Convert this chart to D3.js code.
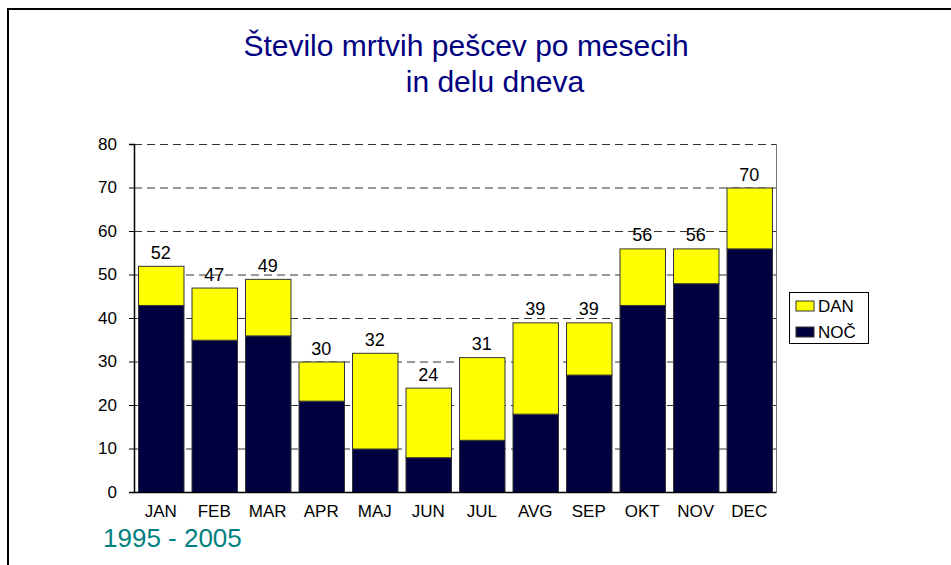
<!DOCTYPE html>
<html>
<head>
<meta charset="utf-8">
<script src="https://cdn.jsdelivr.net/npm/d3@7"></script>
<style>
    body { margin: 0; background: #fff; }
    svg text { font-family: "Liberation Sans", Arial, sans-serif; }
</style>
</head>
<body>
<div class="mainArea"></div>
<script>
let months = ['JAN', 'FEB', 'MAR', 'APR', 'MAJ', 'JUN', 'JUL', 'AVG', 'SEP', 'OKT', 'NOV', 'DEC'];
let noc = [43, 35, 36, 21, 10, 8, 12, 18, 27, 43, 48, 56];
let dan = [9, 12, 13, 9, 22, 16, 19, 21, 12, 13, 8, 14];
let yTicks = [0, 10, 20, 30, 40, 50, 60, 70, 80];
let seriesNames = ['DAN', 'NOČ'];
let seriesColors = {'DAN': '#ffff00', 'NOČ': '#000040'};

let chartW = 951;
let chartH = 565;
let plotLeft = 134, plotRight = 776, plotTop = 144, plotBottom = 492;

function drawChart() {
    let svg = d3.select('.mainArea').append('svg')
        .attr('width', chartW)
        .attr('height', chartH);

    // frame (top + left only)
    svg.append('line').attr('x1', 7).attr('x2', chartW).attr('y1', 9).attr('y2', 9)
        .attr('stroke', '#000').attr('stroke-width', 2);
    svg.append('line').attr('x1', 8).attr('x2', 8).attr('y1', 8).attr('y2', chartH)
        .attr('stroke', '#000').attr('stroke-width', 2);

    // title
    let title = svg.append('text').attr('fill', '#000080').style('font-size', '30px');
    title.append('tspan').attr('x', 466).attr('y', 56).attr('text-anchor', 'middle')
        .text('Število mrtvih pešcev po mesecih');
    title.append('tspan').attr('x', 495).attr('y', 92).attr('text-anchor', 'middle')
        .text('in delu dneva');

    let data = months.map(function(m, i) {
        return {month: m, 'NOČ': noc[i], 'DAN': dan[i]};
    });

    let x = d3.scaleBand()
        .domain(months)
        .range([plotLeft, plotRight])
        .paddingInner(0.15)
        .paddingOuter(0.075);

    let y = d3.scaleLinear()
        .domain([0, 80])
        .range([plotBottom, plotTop]);

    // gridlines
    let g = svg.append('g').attr('class', 'grid');
    g.selectAll('line')
        .data(yTicks.filter(d => d > 0))
        .enter().append('line')
        .attr('x1', plotLeft).attr('x2', plotRight)
        .attr('y1', d => y(d) + 0.5).attr('y2', d => y(d) + 0.5)
        .attr('stroke', '#333')
        .attr('stroke-dasharray', '8,5');

    // right border of plot
    svg.append('line').attr('x1', plotRight + 0.5).attr('x2', plotRight + 0.5)
        .attr('y1', plotTop).attr('y2', plotBottom)
        .attr('stroke', '#777');

    // stacked bars
    let stack = d3.stack().keys(['NOČ', 'DAN']);
    let layers = stack(data);
    g = svg.append('g').attr('class', 'bars');
    g.selectAll('g')
        .data(layers)
        .enter().append('g')
        .attr('fill', d => seriesColors[d.key])
        .selectAll('rect')
        .data(d => d)
        .enter().append('rect')
        .attr('x', d => x(d.data.month) + 0.5)
        .attr('y', d => y(d[1]) + 0.5)
        .attr('width', x.bandwidth())
        .attr('height', d => y(d[0]) - y(d[1]))
        .attr('stroke', '#333')
        .attr('stroke-width', 1);

    // totals
    svg.append('g').selectAll('text')
        .data(data)
        .enter().append('text')
        .attr('x', d => x(d.month) + x.bandwidth() / 2)
        .attr('y', d => y(d['NOČ'] + d['DAN']) - 7)
        .attr('text-anchor', 'middle')
        .style('font-size', '18px')
        .attr('fill', '#000')
        .text(d => d['NOČ'] + d['DAN']);

    // axes
    let yAxis = svg.append('g')
        .attr('transform', 'translate(' + plotLeft + ',0)')
        .call(d3.axisLeft(y).tickValues(yTicks).tickSize(5).tickPadding(12));
    yAxis.select('.domain').attr('stroke', '#000').attr('stroke-width', 1.5);
    yAxis.selectAll('text').style('font-size', '17px').attr('fill', '#000')
        .style('font-family', '"Liberation Sans", Arial, sans-serif');

    let xAxis = svg.append('g')
        .attr('transform', 'translate(0,' + plotBottom + ')')
        .call(d3.axisBottom(x).tickSize(0).tickPadding(13));
    xAxis.select('.domain').attr('stroke', '#000').attr('stroke-width', 1.5);
    xAxis.selectAll('text').style('font-size', '17px').attr('fill', '#000')
        .style('font-family', '"Liberation Sans", Arial, sans-serif');

    // legend
    let legend = svg.append('g').attr('class', 'legend');
    legend.append('rect')
        .attr('x', 789.5).attr('y', 292.5).attr('width', 79).attr('height', 51)
        .attr('fill', '#fff').attr('stroke', '#000');
    legend.selectAll('.swatch')
        .data(seriesNames)
        .enter().append('rect')
        .attr('class', 'swatch')
        .attr('x', 796).attr('y', (d, i) => 301 + i * 26)
        .attr('width', 18).attr('height', 10)
        .attr('fill', d => seriesColors[d])
        .attr('stroke', '#333');
    legend.selectAll('.label')
        .data(seriesNames)
        .enter().append('text')
        .attr('class', 'label')
        .attr('x', 818).attr('y', (d, i) => 312 + i * 26)
        .style('font-size', '17px')
        .text(d => d);

    // period note
    svg.append('text')
        .attr('x', 103).attr('y', 547)
        .attr('fill', '#008080')
        .style('font-size', '26px')
        .text('1995 - 2005');
}

drawChart();
</script>
</body>
</html>
